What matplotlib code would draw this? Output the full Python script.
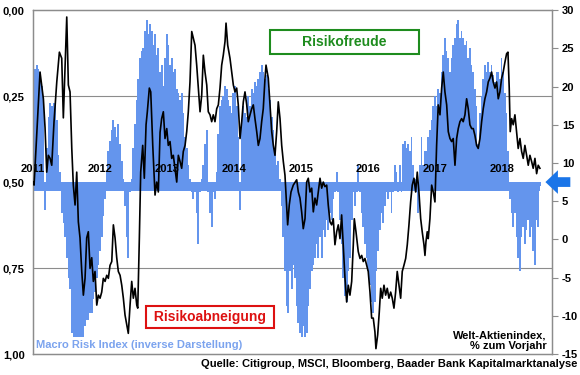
import numpy as np
import matplotlib
matplotlib.use("Agg")
import matplotlib.pyplot as plt

plt.rcParams['font.family'] = ['Liberation Sans', 'DejaVu Sans']
plt.rcParams['font.weight'] = 'bold'

# Macro Risk Index (inverse), left axis, roughly every 9 days
risk_start, risk_end = 2011.005, 2018.567
risk_v = [
    # 2011 - early 2013
    0.22, 0.17, 0.16, 0.17, 0.18, 0.22, 0.28, 0.58, 0.40, 0.31,
    0.27, 0.28, 0.27, 0.27, 0.32, 0.42, 0.47, 0.59, 0.62, 0.66,
    0.72, 0.78, 0.81, 0.94, 0.95, 0.95, 0.95, 0.95, 0.95, 0.95,
    0.95, 0.92, 0.90, 0.90, 0.88, 0.88, 0.84, 0.82, 0.78, 0.74,
    0.70, 0.66, 0.60, 0.55, 0.47, 0.41, 0.38, 0.35, 0.32, 0.34,
    0.37, 0.33, 0.39, 0.44, 0.49, 0.57, 0.66, 0.72, 0.53, 0.49,
    0.40, 0.33, 0.26, 0.20, 0.14, 0.12, 0.11, 0.06, 0.03, 0.07,
    0.04, 0.06, 0.10, 0.07, 0.13, 0.11, 0.18, 0.16, 0.22, 0.14,
    # 2013 - 2014
    0.07, 0.10, 0.16, 0.14, 0.18, 0.17, 0.23, 0.24, 0.26, 0.24,
    0.30, 0.37, 0.40, 0.45, 0.49, 0.53, 0.55, 0.53, 0.59, 0.68,
    0.53, 0.49, 0.45, 0.39, 0.35, 0.53, 0.59, 0.63, 0.53, 0.55,
    0.47, 0.36, 0.28, 0.26, 0.25, 0.22, 0.23, 0.26, 0.28, 0.30,
    0.24, 0.22, 0.28, 0.37, 0.58, 0.33, 0.28, 0.30, 0.31, 0.25,
    0.28, 0.23, 0.24, 0.21, 0.22, 0.20, 0.18, 0.16, 0.18, 0.20,
    0.19, 0.23, 0.26, 0.31, 0.35, 0.41, 0.45, 0.44, 0.49, 0.57,
    0.66, 0.76, 0.86, 0.88, 0.76, 0.81, 0.74, 0.78,
    # 2015 - 2016
    0.86, 0.91, 0.94, 0.95, 0.92, 0.95, 0.94, 0.86, 0.81, 0.76,
    0.74, 0.72, 0.68, 0.72, 0.66, 0.72, 0.64, 0.66, 0.61, 0.64,
    0.59, 0.61, 0.55, 0.53, 0.47, 0.53, 0.61, 0.68, 0.78, 0.83,
    0.85, 0.76, 0.72, 0.61, 0.53, 0.57, 0.53, 0.45, 0.53, 0.59,
    0.63, 0.68, 0.72, 0.76, 0.80, 0.85, 0.88, 0.85, 0.76, 0.70,
    0.64, 0.59, 0.62, 0.57, 0.53, 0.55, 0.53, 0.59, 0.53, 0.45,
    0.47, 0.53, 0.45, 0.53, 0.39, 0.38, 0.40, 0.39, 0.41, 0.37,
    0.45, 0.49, 0.53, 0.59, 0.45, 0.37, 0.45, 0.41,
    # 2017 - 2018
    0.41, 0.37, 0.35, 0.32, 0.28, 0.25, 0.28, 0.23, 0.24, 0.18,
    0.13, 0.08, 0.12, 0.14, 0.18, 0.14, 0.10, 0.08, 0.04, 0.03,
    0.08, 0.06, 0.08, 0.10, 0.09, 0.14, 0.11, 0.16, 0.18, 0.23,
    0.28, 0.39, 0.30, 0.25, 0.20, 0.16, 0.18, 0.15, 0.18, 0.16,
    0.19, 0.21, 0.18, 0.18, 0.20, 0.14, 0.18, 0.24, 0.30, 0.41,
    0.55, 0.59, 0.63, 0.59, 0.66, 0.72, 0.76, 0.66, 0.63, 0.68,
    0.64, 0.61, 0.66, 0.63, 0.70, 0.74, 0.61, 0.63, 0.51,
]

# Welt-Aktienindex, % zum Vorjahr (right axis)
stock_t = [
    2011.000, 2011.015, 2011.104, 2011.154, 2011.179, 2011.204, 2011.228, 2011.254, 2011.279, 2011.313,
    2011.354, 2011.393, 2011.428, 2011.452, 2011.503, 2011.527, 2011.552, 2011.578, 2011.601, 2011.627,
    2011.652, 2011.676, 2011.701, 2011.727, 2011.751, 2011.776, 2011.801, 2011.825, 2011.851, 2011.876,
    2011.900, 2011.925, 2011.951, 2011.975, 2012.000, 2012.025, 2012.049, 2012.075, 2012.100, 2012.124,
    2012.149, 2012.175, 2012.199, 2012.224, 2012.249, 2012.273, 2012.299, 2012.324, 2012.348, 2012.373,
    2012.399, 2012.422, 2012.448, 2012.473, 2012.497, 2012.522, 2012.548, 2012.563, 2012.587, 2012.607,
    2012.637, 2012.661, 2012.687, 2012.706, 2012.736, 2012.757, 2012.787, 2012.821, 2012.846, 2012.870,
    2012.896, 2012.920, 2012.945, 2012.970, 2012.996, 2013.019, 2013.045, 2013.070, 2013.094, 2013.119,
    2013.145, 2013.169, 2013.194, 2013.219, 2013.243, 2013.269, 2013.294, 2013.318, 2013.343, 2013.369,
    2013.393, 2013.418, 2013.443, 2013.467, 2013.493, 2013.518, 2013.542, 2013.567, 2013.593, 2013.616,
    2013.642, 2013.667, 2013.691, 2013.716, 2013.742, 2013.766, 2013.791, 2013.816, 2013.840, 2013.866,
    2013.881, 2013.906, 2013.940, 2013.966, 2013.990, 2014.015, 2014.040, 2014.064, 2014.090, 2014.115,
    2014.139, 2014.164, 2014.190, 2014.213, 2014.239, 2014.264, 2014.288, 2014.313, 2014.339, 2014.363,
    2014.388, 2014.413, 2014.437, 2014.463, 2014.478, 2014.512, 2014.537, 2014.563, 2014.587, 2014.612,
    2014.637, 2014.661, 2014.687, 2014.712, 2014.736, 2014.761, 2014.787, 2014.801, 2014.825, 2014.851,
    2014.885, 2014.936, 2014.960, 2014.985, 2015.010, 2015.034, 2015.060, 2015.085, 2015.109, 2015.134,
    2015.160, 2015.184, 2015.209, 2015.234, 2015.258, 2015.284, 2015.309, 2015.333, 2015.358, 2015.384,
    2015.407, 2015.433, 2015.458, 2015.482, 2015.507, 2015.533, 2015.557, 2015.582, 2015.607, 2015.631,
    2015.657, 2015.682, 2015.706, 2015.731, 2015.757, 2015.781, 2015.796, 2015.821, 2015.855, 2015.881,
    2015.906, 2015.930, 2015.955, 2015.981, 2016.004, 2016.030, 2016.055, 2016.079, 2016.104, 2016.119,
    2016.145, 2016.169, 2016.190, 2016.213, 2016.239, 2016.264, 2016.288, 2016.313, 2016.339, 2016.363,
    2016.388, 2016.413, 2016.437, 2016.463, 2016.488, 2016.512, 2016.537, 2016.563, 2016.587, 2016.612,
    2016.637, 2016.661, 2016.687, 2016.712, 2016.736, 2016.761, 2016.787, 2016.810, 2016.836, 2016.851,
    2016.866, 2016.885, 2016.900, 2016.925, 2016.951, 2016.975, 2017.000, 2017.025, 2017.049, 2017.075,
    2017.100, 2017.124, 2017.149, 2017.175, 2017.199, 2017.224, 2017.249, 2017.273, 2017.299, 2017.324,
    2017.348, 2017.373, 2017.399, 2017.422, 2017.448, 2017.473, 2017.497, 2017.522, 2017.548, 2017.572,
    2017.597, 2017.622, 2017.646, 2017.672, 2017.697, 2017.721, 2017.746, 2017.772, 2017.796, 2017.821,
    2017.846, 2017.870, 2017.896, 2017.921, 2017.945, 2017.970, 2017.996, 2018.019, 2018.045, 2018.070,
    2018.090, 2018.109, 2018.124, 2018.145, 2018.169, 2018.194, 2018.219, 2018.243, 2018.269, 2018.294,
    2018.318, 2018.343, 2018.369, 2018.393, 2018.418, 2018.443, 2018.467, 2018.493, 2018.518, 2018.542,
    2018.567,
]
stock_v = [
    7.5, 7.1, 21.9, 18.4, 14.6, 8.8, 11.0, 10.6, 9.7, 15.4,
    20.6, 24.5, 23.7, 15.9, 29.1, 20.2, 19.3, 11.9, 7.1, 4.5,
    8.8, 2.3, 0.2, -4.2, -7.3, -5.1, 0.2, 1.0, -3.8, -2.4,
    -5.5, -4.2, -8.6, -7.3, -7.7, -6.9, -5.1, -5.5, -4.7, -5.1,
    -3.4, -2.9, 1.9, 0.2, -2.4, -4.2, -4.7, -6.0, -7.7, -9.9,
    -11.2, -12.3, -8.6, -5.5, -7.7, -6.4, -8.6, -9.0, 0.2, 8.8,
    12.3, 8.0, 15.0, 16.7, 19.8, 19.3, 12.3, 5.8, 7.5, 6.2,
    14.0, 15.8, 16.7, 13.2, 14.5, 12.3, 12.8, 10.6, 11.0, 9.3,
    7.5, 11.0, 10.2, 9.3, 11.5, 12.3, 14.1, 16.7, 20.6, 27.2,
    26.3, 25.4, 22.8, 19.8, 16.7, 18.9, 24.1, 21.9, 20.2, 16.7,
    16.3, 15.4, 16.3, 15.4, 17.1, 17.6, 19.8, 22.8, 24.1, 25.9,
    28.3, 25.4, 23.7, 21.9, 20.2, 19.3, 19.8, 17.6, 13.2, 15.4,
    18.0, 19.3, 17.6, 15.4, 16.3, 17.1, 17.6, 15.8, 14.1, 12.3,
    13.2, 15.4, 17.1, 21.1, 22.8, 21.1, 17.6, 14.1, 12.3, 11.0,
    14.1, 18.0, 15.8, 12.3, 10.2, 8.4, 4.1, 1.9, 4.5, 6.2,
    7.1, 7.8, 6.2, 5.4, 3.6, 1.4, 2.7, 7.5, 8.0, 6.2,
    6.7, 3.6, 5.4, 4.5, 6.2, 8.0, 6.7, 7.5, 6.9, 7.1,
    4.5, 2.3, 1.9, 2.7, -0.7, 1.0, 1.9, 0.1, 3.2, -0.7,
    -5.1, -8.2, -6.0, -7.3, -5.5, -0.7, 2.7, 1.0, -1.6, -2.5,
    -2.1, -2.9, -2.5, -3.4, -4.2, -6.9, -10.3, -10.3, -12.1, -14.3,
    -12.5, -9.5, -6.4, -7.7, -6.0, -7.3, -6.4, -7.7, -6.9, -7.7,
    -9.0, -6.9, -4.2, -6.0, -7.7, -4.2, -3.4, -2.5, -0.7, 1.9,
    4.9, 7.1, 8.0, 6.2, 8.8, 6.2, 2.7, 1.0, -0.7, -2.1,
    -0.3, 1.0, 0.1, 2.7, 7.1, 6.2, 4.9, 12.3, 17.6, 16.3,
    19.8, 21.9, 19.3, 17.6, 14.1, 13.2, 12.8, 13.2, 9.7, 13.2,
    14.5, 15.4, 15.8, 15.4, 16.3, 18.4, 17.1, 15.0, 14.5, 14.5,
    13.6, 12.3, 11.9, 13.2, 15.4, 17.1, 18.4, 19.3, 20.6, 21.1,
    21.9, 20.6, 19.8, 20.6, 18.4, 19.3, 21.1, 21.9, 23.2, 24.3,
    24.5, 19.8, 14.1, 15.8, 15.0, 16.3, 14.1, 11.9, 13.2, 11.5,
    10.6, 12.3, 11.0, 9.7, 11.0, 10.2, 9.3, 10.6, 8.6, 9.7,
    9.3,
]

years = list(range(2011, 2019))
left_ticks = [0.0, 0.25, 0.5, 0.75, 1.0]
left_labels = ["0,00", "0,25", "0,50", "0,75", "1,00"]
right_ticks = list(range(-15, 31, 5))

blue = '#6495ED'
grey = '#8C8C8C'

fig = plt.figure(figsize=(5.8, 3.75), dpi=100)
ax = fig.add_axes([0.057, 0.056, 0.895, 0.917])
ax2 = ax.twinx()

risk_t = np.linspace(risk_start, risk_end, len(risk_v))
risk_v = np.array(risk_v)
step = risk_t[1] - risk_t[0]
ax.bar(risk_t, risk_v - 0.5, bottom=0.5, width=step * 1.05, color=blue, linewidth=0, zorder=2)
ax.fill_between(risk_t, 0.5, 0.525, color=blue, linewidth=0, zorder=2)

ax.set_xlim(2011.0, 2018.75)
ax.set_ylim(1.0, 0.0)
ax.set_yticks(left_ticks)
ax.set_yticklabels(left_labels, fontsize=8, fontweight='bold')
ax.tick_params(axis='y', length=0, pad=6)
ax.set_xticks([])
for g in (0.25, 0.75):
    ax.axhline(g, color=grey, lw=0.8, zorder=1)
for s in ax.spines.values():
    s.set_color(grey)
    s.set_linewidth(0.9)

for y in years:
    ax.text(y, 0.462, str(y), ha='center', va='center', fontsize=8, fontweight='bold', zorder=4)

ax2.plot(stock_t, stock_v, color='black', lw=1.2, zorder=3)
ax2.set_ylim(-15, 30)
ax2.set_yticks(right_ticks)
ax2.set_yticklabels([str(v) for v in right_ticks], fontsize=8, fontweight='bold')
ax2.tick_params(axis='y', length=4, color=grey, pad=3)
for s in ax2.spines.values():
    s.set_color(grey)
    s.set_linewidth(0.9)

ax.set_zorder(ax2.get_zorder() - 1)
ax.patch.set_visible(True)
ax2.patch.set_visible(False)

# labels
ax2.text(0.60, 0.908, "       Risikofreude       ", transform=ax.transAxes, ha='center', va='center',
         fontsize=10, fontweight='bold', color='#1E8C1E',
         bbox=dict(boxstyle='square,pad=0.35', fc='white', ec='#1E8C1E', lw=1.5), zorder=5)
ax2.text(0.341, 0.108, " Risikoabneigung ", transform=ax.transAxes, ha='center', va='center',
         fontsize=10, fontweight='bold', color='#DD1111',
         bbox=dict(boxstyle='square,pad=0.3', fc='white', ec='#DD1111', lw=1.5), zorder=5)
ax2.text(0.005, 0.025, "Macro Risk Index (inverse Darstellung)", transform=ax.transAxes,
         ha='left', va='center', fontsize=8, fontweight='bold', color='#7BA3EE', zorder=5)
ax2.text(0.99, 0.038, "Welt-Aktienindex,\n% zum Vorjahr", transform=ax.transAxes,
         ha='right', va='center', fontsize=8, fontweight='bold', color='black',
         linespacing=1.1, zorder=5)
fig.text(0.995, 0.03, "Quelle: Citigroup, MSCI, Bloomberg, Baader Bank Kapitalmarktanalyse",
         ha='right', va='center', fontsize=8, fontweight='bold')

ax2.annotate('', xy=(0.987, 0.5), xycoords='axes fraction', xytext=(1.035, 0.5),
             arrowprops=dict(width=7, headwidth=17, headlength=9, color='#1A75E8', lw=0),
             annotation_clip=False, zorder=6)

fig.savefig('out.png', dpi=100)
